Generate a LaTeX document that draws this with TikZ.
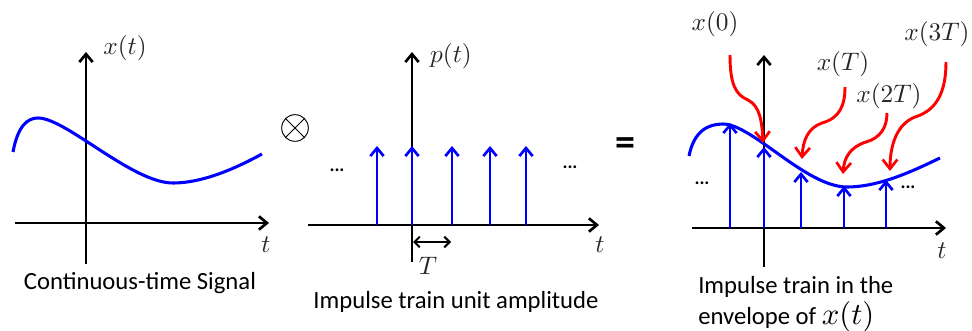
\documentclass[tikz,border=0pt]{standalone}
\usepackage{fontspec}
\setmainfont{Carlito}
\usetikzlibrary{arrows.meta}
\begin{document}
\begin{tikzpicture}[x=0.75pt,y=-0.75pt,
  axisln/.style={line width=2.1pt,black,-{Straight Barb[length=6pt,width=10pt,line width=2pt]}},
  impln/.style={line width=2.1pt,blue,-{Straight Barb[length=6pt,width=10pt,line width=2pt]}},
  sigln/.style={line width=2.3pt,blue},
  redarr/.style={line width=2.2pt,red,-{Straight Barb[length=7pt,width=11pt,line width=2pt]}},
  captxt/.style={font=\fontsize{18.5}{22}\selectfont,inner sep=0pt},
  labtxt/.style={font=\normalsize,scale=1.9,inner sep=0pt,text=black!85},
  dotlbl/.style={font=\fontsize{14}{16}\selectfont\bfseries,inner sep=0pt}]
\useasboundingbox (0,0) rectangle (972,331);

% ---------- Panel 1 ----------
\coordinate (y1b) at (86,264); \coordinate (y1t) at (86,52);
\coordinate (x1l) at (15,223); \coordinate (x1r) at (269,223);
\draw[axisln] (y1b) -- (y1t);
\draw[axisln] (x1l) -- (x1r);
\node[labtxt] (lx1) at (125,48) {$x(t)$};
\node[labtxt] (lt1) at (266,245) {$t$};
\draw[sigln] (13,152) .. controls (18,125) and (28,118) .. (38,118)
  .. controls (66,118) and (132,183) .. (173,183)
  .. controls (205,183) and (240,166) .. (262,154);
\node[captxt] (c1) at (140,283) {Continuous-time Signal};

% ---------- operator ----------
\node[draw,circle,line width=0.7pt,minimum size=20pt,inner sep=0pt] (ot) at (295,128) {};
\draw[line width=0.7pt] (ot.north west) -- (ot.south east) (ot.north east) -- (ot.south west);
\node[font=\fontsize{30}{30}\selectfont\bfseries,inner sep=0pt] (eq) at (625,147) {=};

% ---------- Panel 2 ----------
\coordinate (y2b) at (412,262); \coordinate (y2t) at (412,52);
\coordinate (x2l) at (308,225); \coordinate (x2r) at (599,225);
\draw[axisln] (y2b) -- (y2t);
\draw[axisln] (x2l) -- (x2r);
\node[labtxt] (lp2) at (451,56) {$p(t)$};
\node[labtxt] (lt2) at (600,245) {$t$};
\foreach \xx [count=\i] in {377,412,452,490,526}{
  \coordinate (b\i) at (\xx,225); \coordinate (t\i) at (\xx,146);
  \draw[impln] (b\i) -- (t\i);
}
\node[dotlbl] (d2l) at (337,170) {...};
\node[dotlbl] (d2r) at (570,167) {...};
\coordinate (ta) at (413,242); \coordinate (tb) at (451,242);
\draw[line width=1.6pt,{Straight Barb[length=4pt,width=8pt,line width=1.5pt]}-{Straight Barb[length=4pt,width=8pt,line width=1.5pt]}] (ta) -- (tb);
\node[labtxt] (lT) at (428,266) {$T$};
\node[captxt] (c2) at (456,302) {Impulse train unit amplitude};

% ---------- Panel 3 ----------
\coordinate (y3b) at (764,267); \coordinate (y3t) at (764,55);
\coordinate (x3l) at (692,228); \coordinate (x3r) at (946,228);
\draw[axisln] (y3b) -- (y3t);
\draw[axisln] (x3l) -- (x3r);
\node[labtxt] (lt3) at (942,251) {$t$};
\draw[sigln] (689,156) .. controls (694,131) and (708,124) .. (723,124)
  .. controls (752,124) and (806,187) .. (847,187)
  .. controls (880,187) and (915,170) .. (940,158);
\foreach \xx/\yy [count=\i] in {730/123,764/147,801/172,844/186,886/180}{
  \coordinate (pb\i) at (\xx,228); \coordinate (pt\i) at (\xx,\yy);
  \draw[impln] (pb\i) -- (pt\i);
}
\node[dotlbl] (d3l) at (702,183) {...};
\node[dotlbl] (d3r) at (908,187) {...};
% labels
\node[labtxt] (l0) at (715,24) {$x(0)$};
\node[labtxt] (l1) at (843,64) {$x(T)$};
\node[labtxt] (l2) at (889,96) {$x(2T)$};
\node[labtxt] (l3) at (937,34) {$x(3T)$};
% red arrows
\coordinate (r0s) at (730,55); \coordinate (r0e) at (763,143);
\coordinate (r1s) at (845,87); \coordinate (r1e) at (802,159);
\coordinate (r2s) at (887,113); \coordinate (r2e) at (843,174);
\coordinate (r3s) at (946,62); \coordinate (r3e) at (890,171);
\draw[redarr] (r0s) .. controls (730,85) and (736,95) .. (748,100)
  .. controls (760,106) and (762,122) .. (r0e);
\draw[redarr] (r1s) .. controls (845,105) and (840,118) .. (822,123)
  .. controls (808,128) and (803,140) .. (r1e);
\draw[redarr] (r2s) .. controls (887,128) and (880,138) .. (866,142)
  .. controls (850,147) and (844,158) .. (r2e);
\draw[redarr] (r3s) .. controls (946,90) and (938,110) .. (915,117)
  .. controls (897,124) and (890,145) .. (r3e);
\node[captxt,anchor=west] (c3a) at (698,287) {Impulse train in the};
\node[captxt,anchor=west] (c3b) at (698,317) {envelope of \scalebox{2.3}{\normalsize$x(t)$}};
\end{tikzpicture}
\end{document}
